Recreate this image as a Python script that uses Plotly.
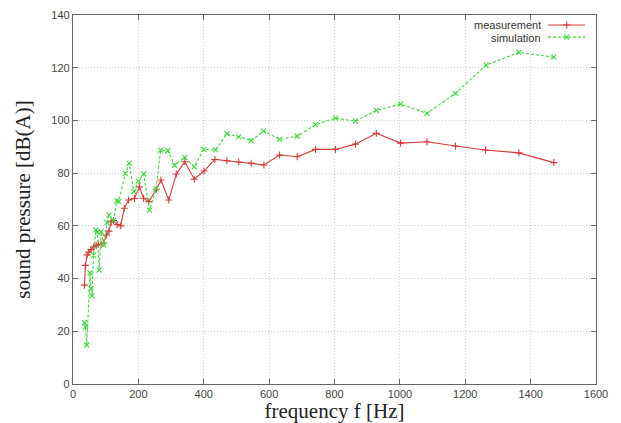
import plotly.graph_objects as go

# Measurement (red)
meas_f = [35, 38, 43, 48, 55, 63, 71, 78, 86, 94, 102, 110, 117, 124, 135, 146, 157, 170, 188, 203,
          216, 232, 255, 269, 293, 316, 342, 371, 401, 434, 471, 507, 545, 584, 632, 686, 742, 803,
          864, 928, 1002, 1083, 1170, 1262, 1364, 1471]
meas_v = [37.5, 45, 49, 50, 51, 52, 52.5, 53, 53, 53.5, 56.5, 58, 61.5, 62, 60.5, 60, 66.7, 69.8, 70.4, 74.8,
          70.5, 69.2, 73.9, 77.4, 69.8, 79.7, 84.3, 77.7, 80.8, 85.2, 84.7, 84.2, 83.8, 83.1, 86.9, 86.2, 89, 89,
          91, 95.1, 91.4, 91.9, 90.3, 88.8, 87.7, 84]

# Simulation (green)
sim_f = [35, 38, 42, 52, 55, 58, 63, 70, 75, 80, 86, 94, 104, 110, 124, 134, 140, 160, 172, 186,
         200, 216, 234, 254, 268, 290, 311, 342, 371, 400, 436, 471, 507, 545, 583, 632, 686, 742,
         803, 864, 928, 1002, 1083, 1170, 1264, 1364, 1471]
sim_v = [23.3, 21.7, 14.8, 42.2, 36.3, 33.4, 48.9, 58.5, 57.5, 43.2, 57.8, 52.7, 61.2, 64.1, 62, 69.5, 69.2, 79.9, 83.7, 73,
         77, 79.7, 66, 74, 88.7, 88.5, 83, 86, 82.4, 89, 88.8, 95, 93.8, 92.3, 96, 92.8, 94, 98.4,
         100.9, 99.7, 103.8, 106.2, 102.7, 110.3, 121, 125.8, 124]

legend_labels = ["measurement", "simulation"]

RED = "#d83a3a"
GREEN = "#3cd83c"
DASH = "3px,2px"

fig = go.Figure()
fig.add_trace(go.Scatter(x=meas_f, y=meas_v, mode="lines+markers", name=legend_labels[0],
                         line=dict(color=RED, width=1.1),
                         marker=dict(symbol="cross-thin", size=5, line=dict(color=RED, width=1.1)),
                         showlegend=False))
fig.add_trace(go.Scatter(x=sim_f, y=sim_v, mode="lines+markers", name=legend_labels[1],
                         line=dict(color=GREEN, width=1.1, dash=DASH),
                         marker=dict(symbol="x-thin", size=5, line=dict(color=GREEN, width=1.1)),
                         showlegend=False))

# Manual legend (text left, key right) on a hidden overlay axis
leg_y = [0.973, 0.940]
fig.add_trace(go.Scatter(x=[0.908, 0.979], y=[leg_y[0]] * 2, mode="lines", xaxis="x2", yaxis="y2",
                         line=dict(color=RED, width=1.1), showlegend=False, hoverinfo="skip"))
fig.add_trace(go.Scatter(x=[0.944], y=[leg_y[0]], mode="markers", xaxis="x2", yaxis="y2",
                         marker=dict(symbol="cross-thin", size=5, line=dict(color=RED, width=1.1)),
                         showlegend=False, hoverinfo="skip"))
fig.add_trace(go.Scatter(x=[0.908, 0.979], y=[leg_y[1]] * 2, mode="lines", xaxis="x2", yaxis="y2",
                         line=dict(color=GREEN, width=1.1, dash=DASH), showlegend=False, hoverinfo="skip"))
fig.add_trace(go.Scatter(x=[0.944], y=[leg_y[1]], mode="markers", xaxis="x2", yaxis="y2",
                         marker=dict(symbol="x-thin", size=5, line=dict(color=GREEN, width=1.1)),
                         showlegend=False, hoverinfo="skip"))
for lab, yy in zip(legend_labels, leg_y):
    fig.add_annotation(x=0.899, y=yy, xref="x2", yref="y2", text=lab, showarrow=False,
                       xanchor="right", yanchor="middle", height=11,
                       font=dict(family="Liberation Sans, Arial, sans-serif", size=11, color="#333"))

axis_common = dict(showline=True, linecolor="#666", linewidth=1.3, mirror="ticks",
                   ticks="inside", ticklen=5, tickcolor="#666", automargin=False,
                   showgrid=True, gridcolor="#cfcfcf", griddash="1px,2px", gridwidth=1,
                   zeroline=False,
                   tickfont=dict(family="Liberation Sans, Arial, sans-serif", size=11, color="#444"))

fig.update_layout(
    width=613, height=415,
    margin=dict(l=65, r=25, t=7, b=39, autoexpand=False),
    paper_bgcolor="white", plot_bgcolor="white",
    xaxis=dict(range=[0, 1600], dtick=200, tick0=0,
               title=dict(text="frequency f [Hz]", standoff=0,
                          font=dict(family="Liberation Serif, Times New Roman, serif", size=21, color="#222")),
               **axis_common),
    yaxis=dict(range=[0, 140], dtick=20, tick0=0,
               title=dict(text="sound pressure [dB(A)]", standoff=14,
                          font=dict(family="Liberation Serif, Times New Roman, serif", size=21, color="#222")),
               **axis_common),
    xaxis2=dict(range=[0, 1], overlaying="x", visible=False, fixedrange=True),
    yaxis2=dict(range=[0, 1], overlaying="y", visible=False, fixedrange=True),
)

fig.write_html("out.html")
